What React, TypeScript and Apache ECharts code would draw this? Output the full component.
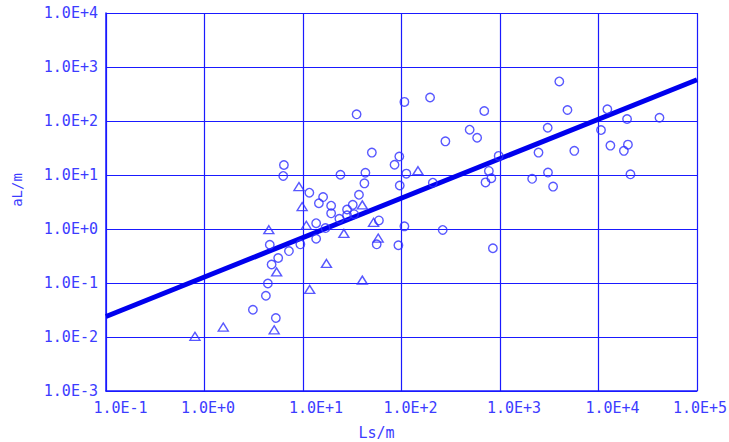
import React, { useEffect, useRef } from "react";
import * as echarts from "echarts";

const xTickLabels = ["1.0E-1", "1.0E+0", "1.0E+1", "1.0E+2", "1.0E+3", "1.0E+4", "1.0E+5"];
const yTickLabels = ["1.0E-3", "1.0E-2", "1.0E-1", "1.0E+0", "1.0E+1", "1.0E+2", "1.0E+3", "1.0E+4"];

// circles: Ls (m) and aL (m)
const circleLs = [
  6.4, 6.3, 35, 50, 24, 43, 42, 37, 11.6, 16, 14.5, 19.3, 19.3, 28, 32, 23.4, 28, 33, 13.6, 16.9,
  13.6, 9.4, 7.2, 5.6, 4.8, 4.6, 4.4, 4.2, 3.1, 5.3, 56, 59, 93, 107, 96, 112, 85, 95, 107, 195,
  279, 208, 262, 492, 586, 692, 970, 771, 817, 713, 847, 2120, 2460, 3050, 3070, 3460, 4000, 4840,
  5680, 10600, 12300, 13200, 18100, 19500, 19900, 21100, 41600,
];
const circleAL = [
  15.3, 9.6, 133, 26, 10.1, 11, 7.0, 4.3, 4.7, 3.9, 3.0, 2.7, 1.95, 2.3, 2.8, 1.55, 1.8, 1.88, 1.28, 1.04,
  0.66, 0.52, 0.39, 0.29, 0.22, 0.51, 0.098, 0.058, 0.032, 0.0225, 0.52, 1.44, 0.5, 1.12, 6.4, 10.6, 15.5, 22, 226, 272,
  42, 7.2, 0.96, 69, 49, 153, 22.6, 11.9, 8.7, 7.3, 0.44, 8.5, 26, 75, 11.1, 6.1, 540, 160,
  28, 68, 165, 35, 28, 109, 36.5, 10.3, 115,
];

// triangles
const triLs = [9.1, 9.8, 10.8, 4.5, 5.4, 17.3, 26, 40, 52, 58, 40, 11.7, 1.55, 5.1, 0.8, 147];
const triAL = [6.1, 2.6, 1.17, 0.97, 0.16, 0.23, 0.83, 2.8, 1.33, 0.68, 0.113, 0.076, 0.0153, 0.0136, 0.0103, 12];

// fitted line
const fitLs = [0.1, 100000];
const fitAL = [0.024, 580];

const BLUE = "#1a1aff";
const MARK = "#2e2eff";
const TEXT = "#3c3cff";
const FONT = "DejaVu Sans Mono";

export default function App() {
  const ref = useRef<HTMLDivElement>(null);
  useEffect(() => {
    if (!ref.current) return;
    const chart = echarts.init(ref.current, undefined, { renderer: "svg" });
    const xRich: Record<string, any> = {};
    const xPads = [29, 7, 26, 18, 28, 28, 6];
    xPads.forEach((p, i) => {
      xRich["p" + i] = { color: TEXT, fontFamily: FONT, fontSize: 15, padding: [0, 0, 0, p] };
    });
    chart.setOption({
      animation: false,
      backgroundColor: "#ffffff",
      grid: { left: 106, right: 32, top: 13, bottom: 51, outerBoundsMode: "none", containLabel: false },
      xAxis: {
        type: "log",
        logBase: 10,
        min: 0.1,
        max: 100000,
        splitNumber: 6,
        name: "Ls/m",
        nameLocation: "middle",
        nameGap: 34,
        nameTextStyle: { color: TEXT, fontFamily: FONT, fontSize: 15, padding: [0, 50, 0, 0] },
        axisLine: { show: true, lineStyle: { color: BLUE, width: 1.5 } },
        axisTick: { show: false },
        minorTick: { show: false },
        axisLabel: {
          color: TEXT,
          fontFamily: FONT,
          fontSize: 15,
          margin: 9,
          formatter: (v: number) => {
            const i = Math.round(Math.log10(v)) + 1;
            const t = xTickLabels[i];
            return t ? `{p${i}|${t}}` : "";
          },
          rich: xRich,
        },
        splitLine: { show: true, lineStyle: { color: BLUE, width: 1.2 } },
      },
      yAxis: {
        type: "log",
        logBase: 10,
        min: 0.001,
        max: 10000,
        splitNumber: 7,
        name: "aL/m",
        nameLocation: "middle",
        nameGap: 82,
        nameRotate: 90,
        nameTextStyle: { color: TEXT, fontFamily: FONT, fontSize: 14, padding: [0, 0, 0, 24] },
        axisLine: { show: true, lineStyle: { color: BLUE, width: 1.5 } },
        axisTick: { show: false },
        minorTick: { show: false },
        axisLabel: {
          color: TEXT,
          fontFamily: FONT,
          fontSize: 15,
          margin: 8,
          formatter: (v: number) => yTickLabels[Math.round(Math.log10(v)) + 3] ?? "",
        },
        splitLine: { show: true, lineStyle: { color: BLUE, width: 1.2 } },
      },
      series: [
        {
          type: "line",
          data: fitLs.map((x, i) => [x, fitAL[i]]),
          symbol: "none",
          lineStyle: { color: "#0000ee", width: 5 },
          z: 3,
        },
        {
          type: "scatter",
          data: circleLs.map((x, i) => [x, circleAL[i]]),
          symbol: "circle",
          symbolSize: 8.5,
          itemStyle: { color: "rgba(255,255,255,0)", borderColor: MARK, borderWidth: 1.4 },
          z: 4,
        },
        {
          type: "scatter",
          data: triLs.map((x, i) => [x, triAL[i]]),
          symbol: "triangle",
          symbolSize: [10, 8],
          itemStyle: { color: "rgba(255,255,255,0)", borderColor: MARK, borderWidth: 1.4 },
          z: 4,
        },
      ],
    });
    return () => chart.dispose();
  }, []);
  return (
    <div
      ref={ref}
      style={{ position: "fixed", left: 0, top: 0, width: 729, height: 442, background: "#fff" }}
    />
  );
}
